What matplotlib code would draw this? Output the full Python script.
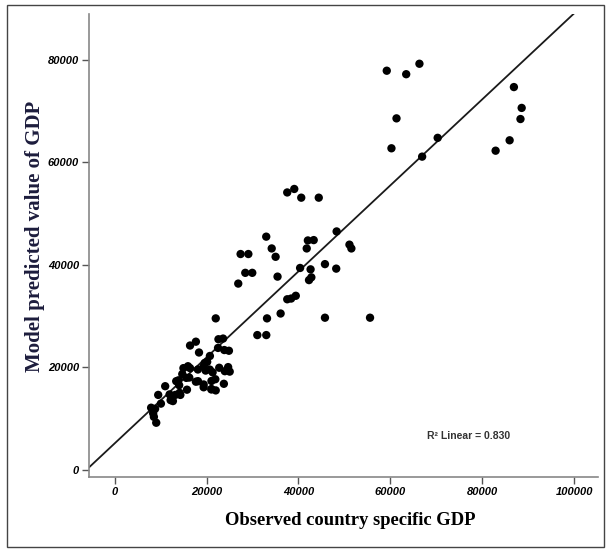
import matplotlib
matplotlib.use("Agg")
import matplotlib.pyplot as plt
from matplotlib.patches import Rectangle
import numpy as np

# observed GDP (x) and model predicted GDP (y)
observed = [59220, 63450, 66330, 61340, 60240, 70300, 66920, 86890, 88580, 88320, 85960, 82910,
            37560, 39090, 40610, 44420, 32990, 34180, 35030, 42050, 43320, 41800, 48310, 51100,
            51520, 27410, 29100, 28430, 29950, 26900, 35450, 40360, 42640, 45770, 48220, 42300,
            42810, 37560, 38410, 39420, 36120, 33160, 45770, 55580, 31050, 33000, 22000,
            16410, 17680, 18360, 22590, 23600, 22500, 23860, 24870, 24700, 25040, 22760, 20730,
            20140, 19370, 19800, 21320, 18110, 16410, 14970, 14720, 16240, 17680, 19370, 21070,
            21910, 21070, 22000, 23770, 19370, 13880, 14040, 15740, 14300, 13200, 12180, 11000,
            9480, 10070, 8800, 8380, 8540, 9050,
            15960, 19600, 20700, 23980, 13400, 15590, 18140, 21050, 11960, 12680, 14140, 7940]
predicted = [77880, 77200, 79240, 68580, 62740, 64780, 61110, 74690, 70620, 68450, 64300, 62270,
             54120, 54800, 53100, 53100, 45490, 43190, 41560, 44750, 44820, 43190, 46510, 43930,
             43190, 42100, 42100, 38430, 38430, 36330, 37690, 39380, 39110, 40130, 39250, 37010,
             37550, 33270, 33410, 33950, 30490, 29540, 29670, 29670, 26280, 26280, 29540,
             24240, 24990, 22880, 25470, 25600, 23770, 23360, 23220, 20030, 19150, 19900, 22200,
             21050, 20170, 19350, 19010, 19560, 19830, 19830, 18670, 17990, 17180, 16640, 17320,
             17660, 15750, 15480, 16770, 16090, 17450, 16500, 15620, 14600, 14600, 13580, 16300,
             14600, 12900, 11880, 11000, 10320, 9170,
             20200, 20840, 19550, 19230, 17280, 17930, 17280, 15670, 14700, 13400, 15010, 12100]

x_ticks = [0, 20000, 40000, 60000, 80000, 100000]
y_ticks = [0, 20000, 40000, 60000, 80000]

fig = plt.figure(figsize=(6.09, 5.5), dpi=100)
ax = fig.add_axes([0.146, 0.132, 0.836, 0.843])

ax.scatter(observed, predicted, s=36, color="black", edgecolors="none", zorder=3)

# linear fit line
slope, intercept = np.polyfit(observed, predicted, 1)
xx = np.array([-5600, 105200])
ax.plot(xx, intercept + slope * xx, color="#1a1a1a", lw=1.3, zorder=2)

ax.set_xlim(-5600, 105200)
ax.set_ylim(-1500, 89000)
ax.set_xticks(x_ticks)
ax.set_yticks(y_ticks)
tick_font = dict(family=["Liberation Sans Narrow", "Liberation Sans", "DejaVu Sans"],
                 weight="bold", style="italic", size=8)
ax.set_xticklabels([str(v) for v in x_ticks], fontdict=tick_font)
ax.set_yticklabels([str(v) for v in y_ticks], fontdict=tick_font)
ax.tick_params(direction="out", length=5, width=1, color="#555555", pad=2)

for s in ["top", "right"]:
    ax.spines[s].set_visible(False)
for s in ["left", "bottom"]:
    ax.spines[s].set_color("#888888")
    ax.spines[s].set_linewidth(1.2)

ax.set_xlabel("Observed country specific GDP", family="Liberation Serif", weight="bold",
              size=13.4)
ax.set_ylabel("Model predicted value of GDP", family="Liberation Serif", weight="bold",
              size=15, color="#1c1c3c")
ax.xaxis.set_label_coords(0.513, -0.075)
ax.yaxis.set_label_coords(-0.086, 0.52)

ax.text(68000, 6600, "R\u00b2 Linear = 0.830", family=["Liberation Sans", "DejaVu Sans"],
        weight="bold", size=7.5, color="#333333", ha="left", va="center")

fig.patches.append(Rectangle((0.011, 0.006), 0.981, 0.985, transform=fig.transFigure,
                             fill=False, edgecolor="#444444", lw=1))

fig.savefig("out.png", dpi=100)
